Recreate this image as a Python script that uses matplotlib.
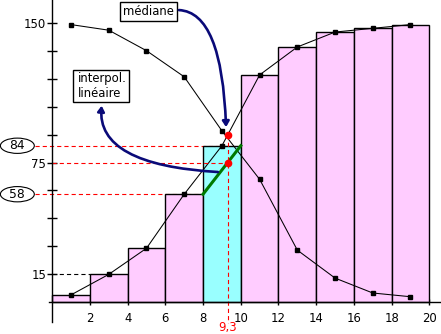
import matplotlib
matplotlib.use("Agg")
import matplotlib.pyplot as plt
import numpy as np
from matplotlib.patches import Ellipse, FancyArrowPatch, Rectangle
from matplotlib.path import Path

plt.rcParams['font.family'] = ['DejaVu Sans']
plt.rcParams['font.size'] = 8.4
plt.rcParams['lines.scale_dashes'] = False

# Class boundaries (width 2) and cumulative counts
class_lefts = [0, 2, 4, 6, 8, 10, 12, 14, 16, 18]
class_mids = [1, 3, 5, 7, 9, 11, 13, 15, 17, 19]
cum_up = [4, 15, 29, 58, 84, 122, 137, 145, 147, 149]
cum_down = [149, 146, 135, 121, 92, 66, 28, 13, 5, 3]
half_total = 75
x_tick_vals = [2, 4, 6, 8, 10, 12, 14, 16, 18, 20]
y_tick_vals = [15, 30, 45, 60, 75, 90, 105, 120, 135, 150]
y_tick_shown = [15, 75, 150]

PINK = '#ffccff'
CYAN = '#99ffff'
RED = '#ff0000'
NAVY = '#0a0a78'
GREEN = '#007a00'
DASH = (0, (3.0, 2.2))

fig = plt.figure(figsize=(4.41, 3.34), dpi=100)
ax = fig.add_axes([0, 0, 1, 1])
ax.set_xlim(-2.77, 20.62)
ax.set_ylim(-17.0, 162.2)

# median class: first class whose cumulative count reaches half the total
k = next(i for i, c in enumerate(cum_up) if c >= half_total)
lo_x, hi_x = class_lefts[k], class_lefts[k] + 2
lo_y, hi_y = cum_up[k - 1], cum_up[k]
x_med = lo_x + (hi_x - lo_x) * (half_total - lo_y) / (hi_y - lo_y)
y_top = np.interp(x_med, class_mids, cum_up)

# guide lines behind the bars
ax.plot([-0.9, x_med], [hi_y, hi_y], color=RED, lw=0.8, ls=DASH, zorder=1)
ax.plot([-0.9, x_med], [lo_y, lo_y], color=RED, lw=0.8, ls=DASH, zorder=1)
ax.plot([0, 2], [cum_up[1], cum_up[1]], color='black', lw=0.8, ls=DASH, zorder=1)

colors = [CYAN if i == k else PINK for i in range(len(cum_up))]
ax.bar(class_lefts, cum_up, width=2, align='edge', color=colors,
       edgecolor='black', lw=1.0, zorder=2)

# cumulative polygons
ax.plot(class_mids, cum_up, color='black', lw=0.75, marker='s', ms=2.3, zorder=3)
ax.plot(class_mids, cum_down, color='black', lw=0.75, marker='s', ms=2.3, zorder=3)

# linear interpolation segment
ax.plot([lo_x, hi_x], [lo_y, hi_y], color=GREEN, lw=2.2, zorder=4)

# median guides on top
ax.plot([0, x_med], [half_total, half_total], color=RED, lw=0.8, ls=DASH, zorder=5)
ax.plot([x_med, x_med], [y_top, -11.0], color=RED, lw=0.8, ls=DASH, zorder=5,
        clip_on=False)
ax.plot([x_med, x_med], [y_top, half_total], 'o', color=RED, ms=4.5, zorder=6)
ax.text(x_med, -13.3, f"{x_med:.1f}".replace('.', ','), color=RED,
        ha='center', va='center')

# axes
for s in ['top', 'right']:
    ax.spines[s].set_visible(False)
ax.spines['left'].set_position(('data', 0))
ax.spines['bottom'].set_position(('data', 0))
ax.spines['left'].set_bounds(-10.6, 162.2)
ax.spines['bottom'].set_bounds(-0.17, 20.62)
ax.spines['left'].set_linewidth(1.0)
ax.spines['bottom'].set_linewidth(1.0)
ax.spines['left'].set_zorder(7)
ax.spines['bottom'].set_zorder(7)
ax.set_yticks(y_tick_vals)
ax.set_yticklabels([str(v) if v in y_tick_shown else '' for v in y_tick_vals])
ax.set_xticks(x_tick_vals)
ax.set_xticklabels([str(v) for v in x_tick_vals])
ax.tick_params(axis='y', direction='inout', length=6.5, width=1.0, pad=1)
ax.tick_params(axis='x', direction='inout', length=4, width=1.0, pad=5)

# circled values
for val in (hi_y, lo_y):
    ax.add_patch(Ellipse((-1.85, val), 1.8, 8.2, fc='white', ec='black',
                         lw=0.8, clip_on=False, zorder=6))
    ax.text(-1.85, val, str(val), ha='center', va='center', fontsize=8.8, zorder=7)

# annotation boxes
ax.add_patch(Rectangle((3.59, 151.1), 3.04, 10.2, fc='white', ec='black',
                       lw=1.0, zorder=6))
ax.text(5.11, 156.0, "médiane", ha='center', va='center', zorder=7)
ax.add_patch(Rectangle((1.08, 107.6), 3.0, 17.0, fc='white', ec='black',
                       lw=1.0, zorder=6))
ax.text(1.36, 120.0, "interpol.", ha='left', va='center', zorder=7)
ax.text(1.36, 112.0, "linéaire", ha='left', va='center', zorder=7)

# curved arrows
arrow_style = '-|>,head_length=0.32,head_width=0.2'
med_path = Path([(6.72, 156.8), (9.0, 155.7), (9.22, 94.0)],
                [Path.MOVETO, Path.CURVE3, Path.CURVE3])
ax.add_patch(FancyArrowPatch(path=med_path, arrowstyle=arrow_style,
                             mutation_scale=10, color=NAVY, lw=1.9, zorder=8))
int_path = Path([(8.79, 69.9), (2.34, 73.7), (2.62, 105.5)],
                [Path.MOVETO, Path.CURVE3, Path.CURVE3])
ax.add_patch(FancyArrowPatch(path=int_path, arrowstyle=arrow_style,
                             mutation_scale=10, color=NAVY, lw=1.9, zorder=8))

fig.savefig('out.png', dpi=100)
